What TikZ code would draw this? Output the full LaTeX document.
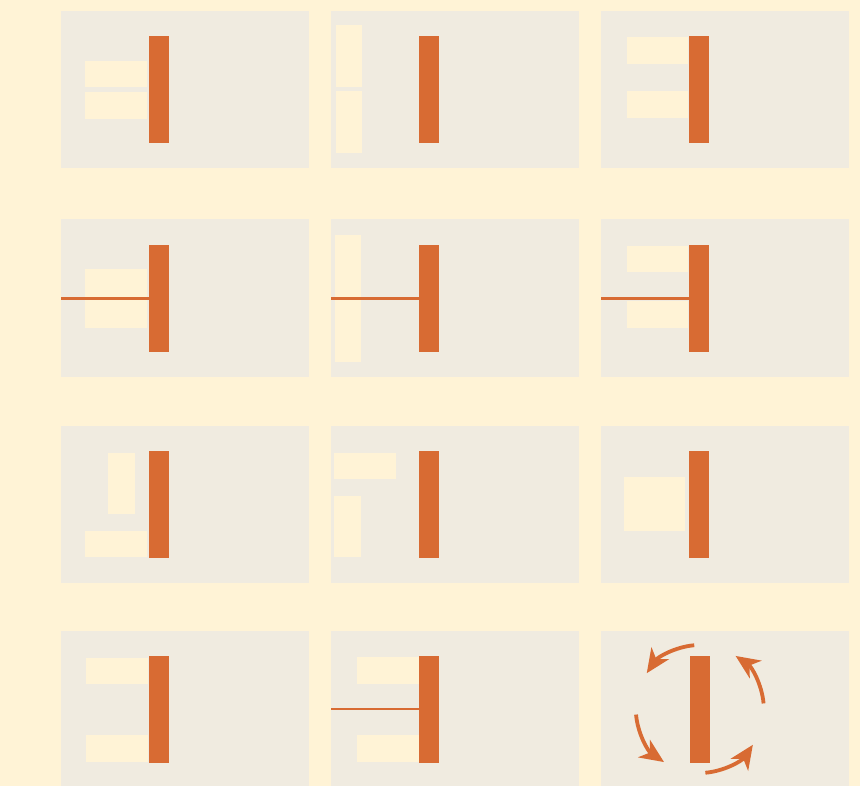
\documentclass[tikz,border=0pt]{standalone}
\usetikzlibrary{arrows.meta}
\definecolor{cream}{HTML}{FFF3D6}
\definecolor{panelc}{HTML}{F0EBE0}
\definecolor{rust}{HTML}{D86B33}
\tikzset{
  panel/.style={fill=panelc, draw=none},
  slot/.style={fill=cream, draw=none},
  bar/.style={fill=rust, draw=none, inner sep=0pt, minimum width=20pt, minimum height=107pt},
  rod/.style={draw=rust, line width=2.8pt},
  turn/.style={draw=rust, line width=3.8pt, -{Stealth[length=24pt,width=21pt,inset=7pt]}}
}
\begin{document}
\begin{tikzpicture}[x=1pt,y=-1pt]
\useasboundingbox (0,0) rectangle (860,786);
\fill[cream] (0,0) rectangle (860,786);
\begin{scope}
\clip (0,0) rectangle (860,786);
% panels
\foreach \px in {61,331,601}{
  \fill[panel] (\px,11) rectangle ++(248,157);
  \fill[panel] (\px,219) rectangle ++(248,158);
  \fill[panel] (\px,426) rectangle ++(248,157);
  \fill[panel] (\px,631) rectangle ++(248,170);
}
% row 1
\fill[slot] (85,61) rectangle (147,87.5);
\fill[slot] (85,92.5) rectangle (147,119);
\fill[slot] (336,25.5) rectangle (362,87);
\fill[slot] (336,91.5) rectangle (362,153);
\fill[slot] (626.5,37.5) rectangle (688,64.5);
\fill[slot] (626.5,91) rectangle (688,118);
\node[bar] (b11) at (158.8,89.5) {};
\node[bar] (b12) at (429,89.5) {};
\node[bar] (b13) at (699.3,89.5) {};
% row 2
\fill[slot] (85,269.5) rectangle (147,328);
\fill[slot] (334.5,235) rectangle (361,362);
\fill[slot] (626.5,246) rectangle (688,272.5);
\fill[slot] (626.5,301.5) rectangle (688,328);
\node[bar] (b21) at (158.8,298.5) {};
\node[bar] (b22) at (429,298.5) {};
\node[bar] (b23) at (699.3,298.5) {};
\coordinate (e21) at (61,298.7);
\coordinate (e22) at (331,298.7);
\coordinate (e23) at (601,298.7);
\draw[rod] (e21) -- (b21.west |- e21);
\draw[rod] (e22) -- (b22.west |- e22);
\draw[rod] (e23) -- (b23.west |- e23);
% row 3
\fill[slot] (108,452.5) rectangle (135,513.5);
\fill[slot] (85,530.5) rectangle (147,557);
\fill[slot] (334,452.5) rectangle (396,479);
\fill[slot] (334,496) rectangle (361,557);
\fill[slot] (624,476.5) rectangle (685,531);
\node[bar] (b31) at (158.8,504.5) {};
\node[bar] (b32) at (429,504.5) {};
\node[bar] (b33) at (699.3,504.5) {};
% row 4
\fill[slot] (86,657.5) rectangle (148,683.5);
\fill[slot] (86,734.5) rectangle (148,761.5);
\fill[slot] (356.5,657) rectangle (418.5,683.5);
\fill[slot] (356.5,734.5) rectangle (418.5,761.5);
\node[bar] (b41) at (159,709) {};
\node[bar] (b42) at (429.2,709) {};
\node[bar] (b43) at (699.8,709) {};
\coordinate (e42) at (331,709);
\draw[rod] (e42) -- (b42.west |- e42);
% rotation arrows around b43
\foreach \a in {0,90,180,270}{
  \draw[turn] (b43.center) ++(-\a-95:64) arc[start angle=-\a-95, end angle=-\a-146, radius=64];
}
\end{scope}
\end{tikzpicture}
\end{document}
